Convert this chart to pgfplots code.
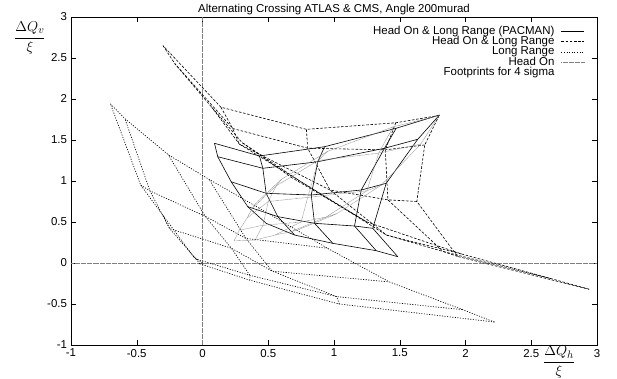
\documentclass[border=0pt]{standalone}
\usepackage{pgfplots}
\pgfplotsset{compat=1.18}
\usepackage{fontspec}
\setmainfont{Liberation Sans}
\usetikzlibrary{calc}
\tikzset{
  pac/.style={black, line width=0.6pt},
  hlr/.style={black, line width=0.6pt, dash pattern=on 2.6pt off 1.6pt},
  lr/.style={black, line width=0.65pt, dash pattern=on 1.1pt off 1.5pt},
  ho/.style={black!50, line width=0.5pt, dash pattern=on 0.6pt off 0.6pt},
}
\begin{document}
\fontsize{11.5}{13.5}\selectfont
\begin{tikzpicture}
\begin{axis}[
  scale only axis, width=526bp, height=328bp,
  xmin=-1, xmax=3, ymin=-1, ymax=3, clip=false,
  xtick={-1,-0.5,0,0.5,1,1.5,2,2.5,3},
  ytick={-1,-0.5,0,0.5,1,1.5,2,2.5,3},
  tick align=inside, major tick length=5bp,
  /pgf/number format/assume math mode=true,
  tick label style={font=\fontsize{11.5}{13.5}\selectfont},
  axis line style={line width=0.6pt},
  tick style={line width=0.5pt, black},
  legend style={at={(rel axis cs:0.977,0.972)}, anchor=north east, draw=none, fill=none,
    inner sep=0pt, row sep=0pt, column sep=6bp, font=\fontsize{11.5}{13.5}\selectfont,
    nodes={inner sep=0.6pt, text height=7.6bp, text depth=1.4bp},
    cells={anchor=east}},
  legend plot pos=right,
  legend image code/.code={\draw[#1] (0bp,0bp) -- (23bp,0bp);},
]
\addlegendimage{pac}\addlegendentry{Head On \& Long Range (PACMAN)}
\addlegendimage{hlr}\addlegendentry{Head On \& Long Range}
\addlegendimage{lr}\addlegendentry{Long Range}
\addlegendimage{ho}\addlegendentry{Head On}
\addlegendimage{empty legend}\addlegendentry{Footprints for 4 sigma}

\draw[black!50, line width=0.5pt, dash pattern=on 0.6pt off 0.6pt] (axis cs:0,-1) -- (axis cs:0,3);
\draw[black!50, line width=0.5pt, dash pattern=on 0.6pt off 0.6pt] (axis cs:-1,0) -- (axis cs:3,0);

% ---------- PACMAN (solid) ----------
\addplot[pac, forget plot] coordinates {(1.802,1.805) (1.637,1.509) (1.397,0.972) (1.295,0.423) (1.485,0.077)};
\addplot[pac, forget plot] coordinates {(1.473,1.643) (1.384,1.399) (1.207,0.890) (1.156,0.451) (1.321,0.150)};
\addplot[pac, forget plot] coordinates {(0.928,1.418) (0.877,1.235) (0.827,0.829) (0.852,0.484) (0.991,0.240)};
\addplot[pac, forget plot] coordinates {(0.433,1.305) (0.459,1.155) (0.484,0.850) (0.573,0.565) (0.700,0.341)};
\addplot[pac, forget plot] coordinates {(0.091,1.460) (0.116,1.296) (0.218,0.991) (0.344,0.687) (0.484,0.484)};
\addplot[pac, forget plot] coordinates {(1.802,1.805) (1.473,1.643) (0.928,1.418) (0.433,1.305) (0.091,1.460)};
\addplot[pac, forget plot] coordinates {(1.637,1.509) (1.384,1.399) (0.877,1.235) (0.459,1.155) (0.116,1.296)};
\addplot[pac, forget plot] coordinates {(1.397,0.972) (1.207,0.890) (0.827,0.829) (0.484,0.850) (0.218,0.991)};
\addplot[pac, forget plot] coordinates {(1.295,0.423) (1.156,0.451) (0.852,0.484) (0.573,0.565) (0.344,0.687)};
\addplot[pac, forget plot] coordinates {(1.485,0.077) (1.321,0.150) (0.991,0.240) (0.700,0.341) (0.484,0.484)};

% ---------- Head On & Long Range (dashed) ----------
\addplot[hlr, forget plot] coordinates {(1.80,1.80) (1.69,1.44) (1.63,0.75) (1.94,0.08) (2.94,-0.32)};
\addplot[hlr, forget plot] coordinates {(1.47,1.71) (1.39,1.38) (1.41,0.77) (1.83,0.14) (2.65,-0.19)};
\addplot[hlr, forget plot] coordinates {(0.79,1.63) (0.80,1.40) (0.97,0.89) (1.40,0.34) (1.97,0.11)};
\addplot[hlr, forget plot] coordinates {(0.14,1.90) (0.23,1.64) (0.28,1.45) (0.74,1.00) (1.25,0.50)};
\addplot[hlr, forget plot] coordinates {(-0.30,2.65) (-0.21,2.43) (0.07,1.90) (0.30,1.47) (0.67,1.05)};
\addplot[hlr, forget plot] coordinates {(1.80,1.80) (1.47,1.71) (0.79,1.63) (0.14,1.90) (-0.30,2.65)};
\addplot[hlr, forget plot] coordinates {(1.69,1.44) (1.39,1.38) (0.80,1.40) (0.23,1.64) (-0.21,2.43)};
\addplot[hlr, forget plot] coordinates {(1.63,0.75) (1.41,0.77) (0.97,0.89) (0.28,1.45) (0.07,1.90)};
\addplot[hlr, forget plot] coordinates {(1.94,0.08) (1.83,0.14) (1.40,0.34) (0.74,1.00) (0.30,1.47)};
\addplot[hlr, forget plot] coordinates {(2.94,-0.32) (2.65,-0.19) (1.97,0.11) (1.25,0.50) (0.67,1.05)};

% ---------- Long Range (dotted) ----------
\addplot[lr, forget plot] coordinates {(0,0) (-0.02,-0.01) (0.36,-0.21) (1.04,-0.50) (2.22,-0.72)};
\addplot[lr, forget plot] coordinates {(-0.07,0.08) (-0.05,0.05) (0.36,-0.15) (1.02,-0.41) (1.98,-0.57)};
\addplot[lr, forget plot] coordinates {(-0.30,0.58) (-0.25,0.42) (0.22,0.18) (0.53,-0.10) (1.42,-0.23)};
\addplot[lr, forget plot] coordinates {(-0.47,0.95) (-0.40,0.88) (0.02,0.57) (0.33,0.30) (0.95,0.18)};
\addplot[lr, forget plot] coordinates {(-0.70,1.94) (-0.59,1.76) (-0.26,1.32) (0.05,1.02) (0.43,0.67)};
\addplot[lr, forget plot] coordinates {(0,0) (-0.07,0.08) (-0.30,0.58) (-0.47,0.95) (-0.70,1.94)};
\addplot[lr, forget plot] coordinates {(-0.02,-0.01) (-0.05,0.05) (-0.25,0.42) (-0.40,0.88) (-0.59,1.76)};
\addplot[lr, forget plot] coordinates {(0.36,-0.21) (0.36,-0.15) (0.22,0.18) (0.02,0.57) (-0.26,1.32)};
\addplot[lr, forget plot] coordinates {(1.04,-0.50) (1.02,-0.41) (0.53,-0.10) (0.33,0.30) (0.05,1.02)};
\addplot[lr, forget plot] coordinates {(2.22,-0.72) (1.98,-0.57) (1.42,-0.23) (0.95,0.18) (0.43,0.67)};

% ---------- Head On (grey) ----------
\addplot[ho, forget plot] coordinates {(1.80,1.80) (1.66,1.45) (1.36,0.95) (1.02,0.60) (0.72,0.40)};
\addplot[ho, forget plot] coordinates {(1.45,1.66) (1.34,1.34) (1.25,0.88) (0.94,0.56) (0.67,0.38)};
\addplot[ho, forget plot] coordinates {(0.95,1.36) (0.88,1.25) (0.80,0.80) (0.75,0.50) (0.55,0.34)};
\addplot[ho, forget plot] coordinates {(0.60,1.02) (0.56,0.94) (0.50,0.75) (0.46,0.46) (0.40,0.28)};
\addplot[ho, forget plot] coordinates {(0.40,0.72) (0.38,0.67) (0.34,0.55) (0.28,0.40) (0.24,0.27)};
\addplot[ho, forget plot] coordinates {(1.80,1.80) (1.45,1.66) (0.95,1.36) (0.60,1.02) (0.40,0.72)};
\addplot[ho, forget plot] coordinates {(1.66,1.45) (1.34,1.34) (0.88,1.25) (0.56,0.94) (0.38,0.67)};
\addplot[ho, forget plot] coordinates {(1.36,0.95) (1.25,0.88) (0.80,0.80) (0.50,0.75) (0.34,0.55)};
\addplot[ho, forget plot] coordinates {(1.02,0.60) (0.94,0.56) (0.75,0.50) (0.46,0.46) (0.28,0.40)};
\addplot[ho, forget plot] coordinates {(0.72,0.40) (0.67,0.38) (0.55,0.34) (0.40,0.28) (0.24,0.27)};

\node[anchor=base, font=\fontsize{11.5}{13.5}\selectfont] at (rel axis cs:0.5,1) [yshift=4.4bp] {Alternating Crossing ATLAS \& CMS, Angle 200murad};
\node[font=\fontsize{15}{17}\selectfont] at (rel axis cs:-0.078,0.936) {$\displaystyle\frac{\Delta Q_v}{\xi}$};
\node[font=\fontsize{15}{17}\selectfont] at (rel axis cs:0.928,-0.052) {$\displaystyle\frac{\Delta Q_h}{\xi}$};
\coordinate (SW) at (rel axis cs:0,0);
\coordinate (NE) at (rel axis cs:1,1);
\end{axis}
\pgfresetboundingbox
\path[use as bounding box] ($(SW)+(-71bp,-34bp)$) rectangle ($(NE)+(20bp,17bp)$);
\end{tikzpicture}
\end{document}
